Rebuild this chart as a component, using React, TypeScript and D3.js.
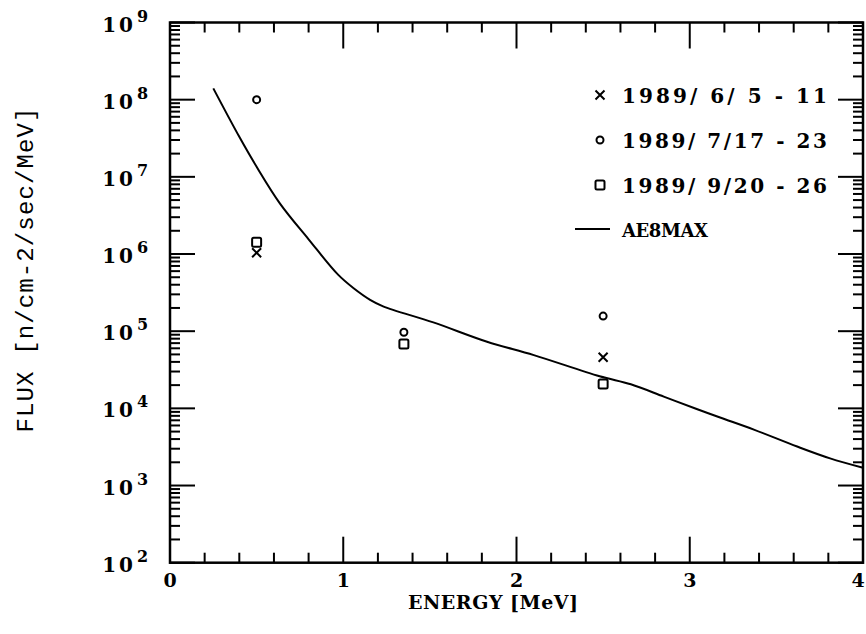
import React, { useEffect, useRef } from 'react';
import * as d3 from 'd3';

// AE8MAX model curve
const curveEnergy = [0.25, 0.40, 0.50, 0.635, 0.80, 0.97, 1.06, 1.155, 1.23, 1.52, 1.83, 2.10, 2.48, 2.66, 2.85, 3.04, 3.175, 3.37, 3.62, 3.81, 4.0];
const curveFlux = [1.4e8, 3.3e7, 1.35e7, 4.5e6, 1.55e6, 5.4e5, 3.6e5, 2.55e5, 2.1e5, 1.3e5, 7.3e4, 4.9e4, 2.6e4, 2.05e4, 1.42e4, 9.8e3, 7.6e3, 5.3e3, 3.2e3, 2.25e3, 1.7e3];

// measured points
const pointEnergy = [0.5, 1.35, 2.5];
const fluxJune = [1.04e6, null, 4.6e4];
const fluxJuly = [1.0e8, 9.7e4, 1.57e5];
const fluxSept = [1.42e6, 6.8e4, 2.07e4];

const legendLabels = ['1989/ 6/ 5 - 11', '1989/ 7/17 - 23', '1989/ 9/20 - 26', 'AE8MAX'];
const xTicks = [0, 1, 2, 3, 4];
const yExponents = [2, 3, 4, 5, 6, 7, 8, 9];

const App = () => {
  const ref = useRef(null);

  useEffect(() => {
    drawChart();
  }, []);

  const drawChart = () => {
    const svg = d3.select(ref.current);
    svg.selectAll('*').remove();

    const left = 170, right = 863, top = 22.5, bottom = 562.7;
    const x = d3.scaleLinear().domain([0, 4]).range([left, right]);
    const y = d3.scaleLog().domain([1e2, 1e9]).range([bottom, top]);

    const serif = "'DejaVu Serif', serif";

    // frame
    svg.append('rect')
      .attr('x', left).attr('y', top)
      .attr('width', right - left).attr('height', bottom - top)
      .attr('fill', 'none').attr('stroke', '#000').attr('stroke-width', 2.5);

    // x ticks, top and bottom
    const xMinor = d3.range(0, 4.001, 0.2);
    xMinor.forEach(v => {
      const major = Math.abs(v - Math.round(v)) < 1e-6;
      const len = major ? 26 : 10;
      svg.append('line').attr('x1', x(v)).attr('x2', x(v))
        .attr('y1', bottom).attr('y2', bottom - len)
        .attr('stroke', '#000').attr('stroke-width', 2);
      svg.append('line').attr('x1', x(v)).attr('x2', x(v))
        .attr('y1', top).attr('y2', top + len)
        .attr('stroke', '#000').attr('stroke-width', 2);
    });

    // y ticks, left and right
    for (let e = 2; e <= 9; e++) {
      for (let m = 1; m <= 9; m++) {
        if (e === 9 && m > 1) break;
        const v = m * Math.pow(10, e);
        const len = m === 1 ? 25 : 10;
        svg.append('line').attr('x1', left).attr('x2', left + len)
          .attr('y1', y(v)).attr('y2', y(v))
          .attr('stroke', '#000').attr('stroke-width', 2);
        svg.append('line').attr('x1', right).attr('x2', right - len)
          .attr('y1', y(v)).attr('y2', y(v))
          .attr('stroke', '#000').attr('stroke-width', 2);
      }
    }

    // x tick labels
    xTicks.forEach(v => {
      svg.append('text')
        .attr('x', Math.min(x(v), 858)).attr('y', 587)
        .attr('text-anchor', 'middle')
        .style('font-family', serif).style('font-weight', 'bold').style('font-size', '19px')
        .text(v);
    });

    // y tick labels
    yExponents.forEach(e => {
      const yy = y(Math.pow(10, e));
      svg.append('text')
        .attr('x', 136).attr('y', yy + 9)
        .attr('text-anchor', 'end')
        .attr('letter-spacing', 3)
        .style('font-family', serif).style('font-weight', 'bold').style('font-size', '20px')
        .text('10');
      svg.append('text')
        .attr('x', 137).attr('y', yy - 1)
        .style('font-family', serif).style('font-weight', 'bold').style('font-size', '16px')
        .text(e);
    });

    // axis titles
    svg.append('text')
      .attr('x', 493).attr('y', 609)
      .attr('text-anchor', 'middle')
      .attr('textLength', 170).attr('lengthAdjust', 'spacing')
      .style('font-family', serif).style('font-weight', 'bold').style('font-size', '19px')
      .text('ENERGY [MeV]');

    svg.append('text')
      .attr('transform', 'translate(33,270) rotate(-90)')
      .attr('text-anchor', 'middle')
      .attr('textLength', 325).attr('lengthAdjust', 'spacing')
      .style('font-family', "'Liberation Mono', monospace").style('font-size', '24px')
      .text('FLUX [n/cm-2/sec/MeV]');

    // AE8MAX curve
    const line = d3.line()
      .x(d => x(d[0]))
      .y(d => y(d[1]))
      .curve(d3.curveCatmullRom.alpha(0.5));
    svg.append('path')
      .attr('d', line(curveEnergy.map((e, i) => [e, curveFlux[i]])))
      .attr('fill', 'none').attr('stroke', '#000').attr('stroke-width', 2);

    // marker drawers
    const drawCross = (cx, cy) => {
      const s = 4.5;
      svg.append('path')
        .attr('d', `M${cx - s},${cy - s}L${cx + s},${cy + s}M${cx - s},${cy + s}L${cx + s},${cy - s}`)
        .attr('stroke', '#000').attr('stroke-width', 2).attr('fill', 'none');
    };
    const drawCircle = (cx, cy) => {
      svg.append('circle').attr('cx', cx).attr('cy', cy).attr('r', 3.5)
        .attr('fill', 'none').attr('stroke', '#000').attr('stroke-width', 2);
    };
    const drawSquare = (cx, cy) => {
      svg.append('rect').attr('x', cx - 4.5).attr('y', cy - 4.5)
        .attr('width', 9).attr('height', 9).attr('rx', 1.5)
        .attr('fill', 'none').attr('stroke', '#000').attr('stroke-width', 2);
    };

    pointEnergy.forEach((e, i) => {
      if (fluxJune[i] != null) drawCross(x(e), y(fluxJune[i]));
      if (fluxJuly[i] != null) drawCircle(x(e), y(fluxJuly[i]));
      if (fluxSept[i] != null) drawSquare(x(e), y(fluxSept[i]));
    });

    // legend
    const legX = 600, textX = 622, rowY = [95, 140, 185, 229];
    const drawers = [drawCross, drawCircle, drawSquare];
    legendLabels.forEach((label, i) => {
      if (i < 3) {
        drawers[i](legX, rowY[i]);
      } else {
        svg.append('line').attr('x1', 575).attr('x2', 610)
          .attr('y1', rowY[i]).attr('y2', rowY[i])
          .attr('stroke', '#000').attr('stroke-width', 2);
      }
      svg.append('text')
        .attr('x', textX).attr('y', rowY[i] + 8)
        .attr('textLength', i < 3 ? 205 : 86).attr('lengthAdjust', 'spacing')
        .style('font-family', serif).style('font-weight', 'bold')
        .style('font-size', i < 3 ? '20px' : '18px')
        .attr('xml:space', 'preserve')
        .text(label);
    });
  };

  return (
    <svg ref={ref} width={866} height={634}
      style={{ position: 'absolute', left: 0, top: 0, background: '#fff' }} />
  );
};

export default App;
